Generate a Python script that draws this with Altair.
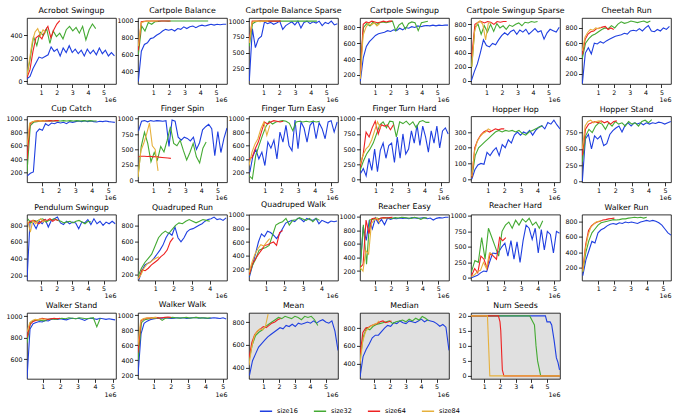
import altair as alt
import pandas as pd
import numpy as np

SERIES = ["size16", "size32", "size64", "size84"]
COLORS = ["#1f3fe0", "#44aa33", "#ee2222", "#e6b03c"]

# ---------------- data (y values; x runs over each series' span, in 1e6 steps) ----------------
ACRO_SPAN = [(0.1, 5.7), (0.1, 4.5), (0.1, 2.2), (0.1, 1.3)]
ACRO_16 = [20, 40, 110, 160, 210, 200, 215, 230, 300, 260, 280, 220, 290, 250, 310, 250, 280, 240, 270, 220, 280, 240, 270, 230, 290, 240, 270, 220, 250, 220]
ACRO_32 = [50, 200, 390, 310, 430, 400, 460, 330, 440, 390, 420, 370, 450, 480, 440, 470, 420, 480, 360, 450, 500, 460]
ACRO_64 = [30, 100, 260, 380, 400, 370, 440, 480, 380, 450, 500, 530]
ACRO_84 = [50, 200, 350, 430, 460, 400, 450, 420]

CPB_SPAN = [(0.05, 5.65), (0.05, 4.5), (0.05, 2.1), (0.05, 1.3)]
CPB_16 = [280, 640, 720, 740, 790, 800, 830, 850, 880, 900, 890, 900, 880, 910, 900, 930, 910, 930, 940, 920, 940, 950, 940, 950, 960, 950, 960, 955, 960, 960]
CPB_32 = [600, 940, 880, 980, 960, 990, 995, 1000, 1000, 998, 1000, 1000, 999, 1000, 1000, 1000, 1000, 1000, 1000, 1000, 1000, 1000]
CPB_64 = [650, 990, 995, 1000, 1000, 1000, 1000, 1000, 1000, 1000, 1000, 1000]
CPB_84 = [700, 980, 990, 1000, 995, 1000, 1000, 1000]

CPBS_SPAN = [(0.1, 5.7), (0.1, 4.4), (0.1, 2.1), (0.1, 1.3)]
CPBS_16 = [50, 880, 580, 720, 760, 990, 960, 980, 950, 970, 1000, 870, 930, 960, 990, 940, 1000, 890, 980, 1000, 960, 990, 970, 1000, 930, 980, 960, 1000, 940, 960]
CPBS_32 = [600, 960, 990, 1000, 1000, 1000, 1000, 1000, 1000, 1000, 1000, 1000, 1000, 1000, 1000, 1000, 1000, 1000, 1000, 1000, 1000, 1000]
CPBS_64 = [700, 1000, 1000, 1000, 1000, 1000, 1000, 1000, 1000, 1000, 1000, 1000]
CPBS_84 = [650, 980, 1000, 1000, 990, 1000, 1000, 1000]

CPS_SPAN = [(0.05, 5.7), (0.05, 4.4), (0.05, 2.1), (0.05, 1.3)]
CPS_16 = [120, 420, 560, 620, 660, 700, 720, 730, 740, 760, 750, 770, 760, 790, 770, 800, 790, 810, 800, 820, 810, 820, 825, 820, 830, 820, 830, 825, 830, 830]
CPS_32 = [300, 800, 850, 820, 870, 840, 860, 870, 860, 870, 880, 760, 830, 860, 780, 850, 870, 860, 760, 860, 870, 880]
CPS_64 = [200, 840, 870, 860, 880, 870, 860, 870, 880, 870, 880, 880]
CPS_84 = [150, 700, 800, 850, 830, 860, 820, 850]

CPSS_SPAN = [(0.02, 5.7), (0.05, 4.3), (0.05, 2.3), (0.05, 1.3)]
CPSS_16 = [0, 130, 240, 400, 580, 500, 480, 530, 510, 580, 640, 680, 650, 700, 720, 660, 720, 690, 730, 660, 700, 740, 690, 710, 590, 680, 730, 710, 690, 760]
CPSS_32 = [200, 760, 800, 660, 780, 690, 800, 700, 810, 750, 780, 730, 790, 770, 800, 820, 780, 830, 820, 840, 830, 840]
CPSS_64 = [350, 800, 830, 840, 820, 840, 830, 800, 840, 830, 840, 840]
CPSS_84 = [200, 700, 820, 850, 800, 580, 820, 820]

CHEE_SPAN = [(0.02, 5.5), (0.02, 4.3), (0.02, 2.0), (0.02, 1.2)]
CHEE_16 = [70, 470, 540, 460, 600, 590, 620, 600, 630, 650, 670, 690, 700, 710, 730, 720, 760, 770, 760, 790, 760, 800, 830, 760, 750, 780, 760, 800, 780, 820]
CHEE_32 = [400, 600, 660, 700, 720, 750, 780, 800, 790, 830, 800, 850, 880, 860, 870, 890, 880, 870, 880, 890, 870, 890]
CHEE_64 = [450, 650, 720, 750, 760, 790, 800, 810, 820, 780, 800, 780]
CHEE_84 = [500, 680, 740, 780, 770, 800, 790, 810]

CUP_SPAN = [(0.1, 5.4), (0.08, 4.3), (0.08, 2.0), (0.08, 1.2)]
CUP_16 = [150, 190, 210, 800, 850, 830, 930, 900, 940, 930, 950, 940, 950, 930, 960, 950, 960, 970, 960, 975, 960, 970, 960, 955, 965, 960, 970, 960, 955, 950]
CUP_32 = [200, 900, 950, 960, 970, 975, 970, 975, 970, 975, 970, 975, 970, 975, 970, 975, 970, 975, 970, 975, 970, 970]
CUP_64 = [400, 920, 960, 970, 975, 970, 975, 970, 975, 970, 975, 975]
CUP_84 = [600, 940, 960, 970, 970, 975, 970, 975]

FSPIN_SPAN = [(0.08, 5.6), (0.05, 4.3), (0.08, 2.1), (0.05, 1.3)]
FSPIN_16 = [800, 960, 970, 950, 970, 960, 970, 965, 960, 970, 550, 980, 960, 700, 650, 700, 680, 640, 700, 500, 610, 820, 870, 910, 840, 400, 790, 450, 680, 850]
FSPIN_32 = [50, 550, 780, 600, 300, 450, 330, 550, 460, 650, 870, 600, 560, 650, 480, 330, 450, 600, 380, 280, 520, 620]
FSPIN_64 = [380, 390, 390, 385, 390, 380, 385, 375, 370, 365, 360, 355]
FSPIN_84 = [50, 480, 600, 750, 930, 560, 500, 150]

FTE_SPAN = [(0.1, 5.35), (0.05, 4.3), (0.05, 2.1), (0.05, 1.3)]
FTE_16 = [200, 440, 540, 400, 500, 300, 650, 560, 680, 400, 800, 650, 900, 600, 520, 980, 550, 950, 860, 650, 900, 960, 700, 940, 850, 700, 950, 970, 800, 950]
FTE_32 = [150, 100, 450, 600, 750, 880, 960, 920, 950, 960, 970, 960, 930, 820, 950, 960, 950, 960, 950, 960, 950, 960]
FTE_64 = [400, 420, 550, 650, 800, 950, 920, 950, 970, 960, 950, 960]
FTE_84 = [300, 500, 620, 700, 850, 950, 750, 900]

FTH_SPAN = [(0.08, 5.45), (0.05, 4.3), (0.05, 2.1), (0.05, 1.3)]
FTH_16 = [100, 180, 60, 350, 150, 500, 130, 480, 600, 350, 560, 600, 280, 700, 350, 750, 420, 500, 800, 600, 900, 560, 880, 700, 450, 800, 600, 880, 520, 800, 850, 750]
FTH_32 = [150, 300, 420, 500, 600, 750, 900, 950, 850, 960, 950, 700, 950, 920, 960, 900, 950, 850, 950, 970, 940, 940]
FTH_64 = [200, 400, 780, 700, 850, 960, 750, 900, 880, 900, 820, 900]
FTH_84 = [250, 400, 500, 550, 650, 800, 950, 850]

HOP_SPAN = [(0.05, 5.35), (0.05, 4.3), (0.05, 2.0), (0.05, 1.2)]
HOP_16 = [0, 60, 90, 100, 95, 170, 150, 180, 200, 150, 220, 200, 250, 230, 280, 300, 280, 300, 290, 310, 280, 310, 330, 340, 320, 360, 350, 375, 345, 320]
HOP_32 = [10, 150, 200, 220, 240, 260, 280, 300, 310, 300, 310, 305, 310, 300, 310, 290, 280, 300, 310, 320, 330, 340]
HOP_64 = [10, 200, 250, 280, 300, 310, 300, 310, 320, 315, 320, 320]
HOP_84 = [20, 180, 240, 270, 290, 300, 320, 310]

HST_SPAN = [(0.02, 5.35), (0.02, 4.2), (0.02, 2.1), (0.02, 1.2)]
HST_16 = [0, 650, 720, 500, 700, 650, 700, 550, 580, 720, 780, 820, 850, 760, 860, 900, 850, 900, 880, 900, 870, 900, 880, 900, 890, 910, 900, 880, 900, 920]
HST_32 = [300, 700, 800, 750, 850, 900, 880, 800, 900, 850, 920, 880, 900, 850, 920, 880, 900, 850, 920, 940, 900, 950]
HST_64 = [400, 800, 880, 900, 920, 900, 930, 900, 920, 880, 920, 930]
HST_84 = [500, 850, 920, 940, 900, 920, 930, 900]

PEND_SPAN = [(0.1, 5.75), (0.15, 4.2), (0.15, 2.1), (0.15, 1.3)]
PEND_16 = [140, 850, 830, 760, 850, 820, 870, 780, 860, 880, 900, 830, 810, 850, 820, 840, 830, 760, 840, 830, 870, 810, 880, 820, 850, 800, 840, 820, 850, 820]
PEND_32 = [880, 830, 860, 850, 870, 880, 840, 860, 870, 880, 860, 850, 830, 840, 850, 830, 850, 860, 840, 820, 850, 840]
PEND_64 = [820, 850, 860, 840, 820, 850, 870, 860, 880, 850, 870, 860]
PEND_84 = [850, 720, 860, 820, 850, 880, 840, 860]

QRUN_SPAN = [(0.1, 4.9), (0.05, 4.0), (0.1, 2.0), (0.05, 1.2)]
QRUN_16 = [140, 250, 320, 340, 360, 400, 450, 500, 560, 650, 710, 680, 780, 650, 600, 650, 720, 750, 760, 780, 800, 820, 850, 870, 880, 900, 870, 880, 860, 890]
QRUN_32 = [180, 280, 350, 400, 450, 550, 650, 700, 730, 700, 750, 800, 830, 820, 850, 870, 850, 830, 850, 870, 860, 850]
QRUN_64 = [160, 260, 250, 280, 320, 350, 380, 420, 450, 500, 600, 650]
QRUN_84 = [150, 200, 280, 330, 350, 380, 400, 420]

QWALK_SPAN = [(0.1, 4.85), (0.08, 3.9), (0.1, 1.9), (0.08, 1.2)]
QWALK_16 = [80, 250, 420, 600, 720, 680, 760, 740, 700, 650, 720, 800, 880, 900, 920, 900, 950, 940, 900, 950, 930, 920, 950, 870, 920, 900, 880, 910, 900, 910]
QWALK_32 = [100, 250, 350, 480, 500, 520, 550, 700, 850, 880, 900, 950, 850, 920, 930, 960, 940, 920, 950, 900, 950, 920]
QWALK_64 = [120, 280, 350, 420, 480, 550, 560, 580, 600, 550, 740, 770]
QWALK_84 = [150, 300, 420, 500, 560, 540, 600, 650]

REZ_SPAN = [(0.05, 5.65), (0.05, 4.3), (0.05, 2.1), (0.05, 1.3)]
REZ_16 = [250, 850, 650, 950, 820, 980, 900, 960, 880, 980, 960, 975, 970, 980, 975, 980, 970, 985, 980, 975, 980, 985, 970, 980, 950, 975, 985, 980, 990, 990]
REZ_32 = [200, 880, 300, 950, 960, 980, 970, 980, 985, 980, 975, 985, 980, 990, 985, 980, 975, 990, 980, 960, 985, 980]
REZ_64 = [250, 300, 950, 750, 970, 980, 950, 980, 985, 980, 985, 990]
REZ_84 = [250, 200, 500, 450, 900, 950, 980, 900]

RHARD_SPAN = [(0.05, 5.3), (0.05, 4.3), (0.05, 2.1), (0.05, 1.3)]
RHARD_16 = [0, 20, 40, 80, 110, 100, 260, 400, 390, 420, 500, 560, 350, 600, 300, 580, 250, 600, 850, 800, 620, 800, 400, 780, 450, 750, 700, 400, 750, 720]
RHARD_32 = [100, 280, 250, 650, 300, 800, 650, 500, 350, 750, 850, 900, 800, 930, 850, 950, 900, 960, 850, 900, 800, 920]
RHARD_64 = [30, 150, 80, 350, 300, 150, 400, 350, 300, 650, 600, 650]
RHARD_84 = [20, 50, 100, 120, 250, 150, 400, 380]

WRUN_SPAN = [(0.05, 5.5), (0.05, 4.0), (0.05, 2.0), (0.05, 1.2)]
WRUN_16 = [100, 300, 420, 540, 520, 650, 690, 710, 740, 760, 770, 760, 780, 770, 790, 780, 790, 780, 770, 790, 800, 810, 800, 810, 800, 780, 750, 700, 650, 620]
WRUN_32 = [150, 400, 550, 650, 700, 750, 780, 790, 800, 810, 820, 815, 820, 830, 830, 840, 845, 850, 845, 850, 840, 850]
WRUN_64 = [180, 500, 680, 740, 770, 790, 800, 815, 820, 830, 835, 840]
WRUN_84 = [150, 450, 620, 720, 760, 790, 800, 810]

WST_SPAN = [(0.1, 5.15), (0.1, 4.3), (0.1, 2.0), (0.1, 1.2)]
WST_16 = [420, 880, 930, 940, 950, 945, 960, 955, 970, 975, 970, 975, 970, 965, 975, 980, 975, 980, 970, 960, 975, 980, 975, 970, 980, 975, 970, 975, 970, 965]
WST_32 = [750, 940, 960, 965, 960, 955, 970, 975, 970, 975, 980, 975, 985, 980, 975, 985, 980, 975, 980, 985, 900, 980]
WST_64 = [800, 920, 950, 960, 970, 980, 975, 970, 975, 980, 975, 980]
WST_84 = [850, 940, 960, 970, 965, 975, 970, 975]

WWALK_SPAN = [(0.1, 5.2), (0.1, 4.3), (0.1, 2.0), (0.1, 1.2)]
WWALK_16 = [200, 750, 890, 920, 940, 950, 955, 960, 960, 965, 960, 955, 960, 965, 960, 965, 955, 960, 965, 970, 960, 965, 960, 955, 960, 965, 960, 955, 965, 950]
WWALK_32 = [400, 900, 940, 950, 960, 960, 965, 930, 960, 965, 970, 965, 960, 965, 970, 960, 965, 970, 960, 965, 960, 965]
WWALK_64 = [500, 920, 950, 960, 960, 965, 970, 960, 965, 970, 975, 970]
WWALK_84 = [600, 930, 955, 960, 965, 960, 970, 965]

MEAN_SPAN = [(0.1, 5.8), (0.07, 4.5), (0.07, 2.1), (0.07, 1.3)]
MEAN_16 = [330, 460, 520, 580, 610, 640, 670, 690, 710, 730, 750, 740, 770, 760, 780, 760, 790, 780, 790, 800, 790, 810, 790, 810, 820, 800, 790, 810, 720, 550]
MEAN_32 = [460, 600, 680, 710, 730, 760, 780, 800, 820, 840, 830, 850, 840, 830, 850, 840, 820, 850, 840, 850, 820, 770]
MEAN_64 = [480, 620, 690, 720, 740, 760, 750, 770, 790, 800, 820, 830]
MEAN_84 = [420, 580, 680, 720, 740, 730, 760, 870]

MED_SPAN = [(0.07, 5.8), (0.07, 4.5), (0.07, 2.1), (0.07, 1.3)]
MED_16 = [250, 480, 560, 620, 690, 720, 720, 760, 800, 830, 820, 860, 850, 880, 860, 850, 880, 870, 860, 880, 900, 870, 890, 880, 870, 850, 820, 840, 810, 550]
MED_32 = [450, 700, 800, 780, 820, 840, 850, 860, 870, 880, 850, 870, 880, 890, 870, 900, 880, 910, 890, 930, 910, 880]
MED_64 = [500, 750, 800, 810, 830, 840, 850, 870, 880, 860, 870, 880]
MED_84 = [400, 650, 760, 800, 820, 840, 850, 880]

SEEDS_X16 = [0.15, 4.9, 5.0, 5.2, 5.3, 5.45, 5.6, 5.7, 5.8]
SEEDS_16 = [20, 20, 18, 18, 17, 12, 6, 4.5, 2]
SEEDS_X32 = [0.15, 3.9, 4.1, 4.2, 4.3, 4.4, 4.6, 5.83]
SEEDS_32 = [20, 20, 18, 17, 10, 5, 0, 0]
SEEDS_X64 = [0.15, 1.9, 2.0, 2.05, 2.15, 2.25, 5.83]
SEEDS_64 = [20, 20, 18, 15, 2, 0, 0]
SEEDS_X84 = [0.15, 1.2, 1.35, 5.83]
SEEDS_84 = [20, 20, 0, 0]

rows = []


def add(panel, spans, ys_list):
    for s, (a, b), ys in zip(SERIES, spans, ys_list):
        for x, y in zip(np.linspace(a, b, len(ys)), ys):
            rows.append({"panel": panel, "series": s, "x": float(x), "y": float(y)})


add("Acrobot Swingup", ACRO_SPAN, [ACRO_16, ACRO_32, ACRO_64, ACRO_84])
add("Cartpole Balance", CPB_SPAN, [CPB_16, CPB_32, CPB_64, CPB_84])
add("Cartpole Balance Sparse", CPBS_SPAN, [CPBS_16, CPBS_32, CPBS_64, CPBS_84])
add("Cartpole Swingup", CPS_SPAN, [CPS_16, CPS_32, CPS_64, CPS_84])
add("Cartpole Swingup Sparse", CPSS_SPAN, [CPSS_16, CPSS_32, CPSS_64, CPSS_84])
add("Cheetah Run", CHEE_SPAN, [CHEE_16, CHEE_32, CHEE_64, CHEE_84])
add("Cup Catch", CUP_SPAN, [CUP_16, CUP_32, CUP_64, CUP_84])
add("Finger Spin", FSPIN_SPAN, [FSPIN_16, FSPIN_32, FSPIN_64, FSPIN_84])
add("Finger Turn Easy", FTE_SPAN, [FTE_16, FTE_32, FTE_64, FTE_84])
add("Finger Turn Hard", FTH_SPAN, [FTH_16, FTH_32, FTH_64, FTH_84])
add("Hopper Hop", HOP_SPAN, [HOP_16, HOP_32, HOP_64, HOP_84])
add("Hopper Stand", HST_SPAN, [HST_16, HST_32, HST_64, HST_84])
add("Pendulum Swingup", PEND_SPAN, [PEND_16, PEND_32, PEND_64, PEND_84])
add("Quadruped Run", QRUN_SPAN, [QRUN_16, QRUN_32, QRUN_64, QRUN_84])
add("Quadruped Walk", QWALK_SPAN, [QWALK_16, QWALK_32, QWALK_64, QWALK_84])
add("Reacher Easy", REZ_SPAN, [REZ_16, REZ_32, REZ_64, REZ_84])
add("Reacher Hard", RHARD_SPAN, [RHARD_16, RHARD_32, RHARD_64, RHARD_84])
add("Walker Run", WRUN_SPAN, [WRUN_16, WRUN_32, WRUN_64, WRUN_84])
add("Walker Stand", WST_SPAN, [WST_16, WST_32, WST_64, WST_84])
add("Walker Walk", WWALK_SPAN, [WWALK_16, WWALK_32, WWALK_64, WWALK_84])
add("Mean", MEAN_SPAN, [MEAN_16, MEAN_32, MEAN_64, MEAN_84])
add("Median", MED_SPAN, [MED_16, MED_32, MED_64, MED_84])
for s, xs, ys in zip(SERIES, [SEEDS_X16, SEEDS_X32, SEEDS_X64, SEEDS_X84],
                     [SEEDS_16, SEEDS_32, SEEDS_64, SEEDS_84]):
    for x, y in zip(xs, ys):
        rows.append({"panel": "Num Seeds", "series": s, "x": x, "y": y})

df = pd.DataFrame(rows)

# panel: (title, x domain, y domain, y ticks, grey background)
T250 = [0, 250, 500, 750, 1000]
T2_10 = [200, 400, 600, 800, 1000]
T2_8 = [200, 400, 600, 800]
PANELS = [
    ("Acrobot Swingup", [0.1, 5.8], [-26, 553], [0, 200, 400], False),
    ("Cartpole Balance", [0.03, 5.7], [250, 1035], [400, 600, 800, 1000], False),
    ("Cartpole Balance Sparse", [0.08, 5.74], [0, 1050], [250, 500, 750, 1000], False),
    ("Cartpole Swingup", [0.03, 5.76], [85, 920], T2_8, False),
    ("Cartpole Swingup Sparse", [0.0, 5.75], [-45, 890], [0, 200, 400, 600, 800], False),
    ("Cheetah Run", [0.0, 5.6], [65, 930], T2_8, False),
    ("Cup Catch", [0.08, 5.47], [55, 1040], T2_10, False),
    ("Finger Spin", [0.05, 5.6], [-35, 1040], T250, False),
    ("Finger Turn Easy", [0.05, 5.4], [50, 1035], T2_10, False),
    ("Finger Turn Hard", [0.05, 5.5], [-45, 1040], T250, False),
    ("Hopper Hop", [0.0, 5.35], [-20, 400], [0, 100, 200, 300], False),
    ("Hopper Stand", [0.0, 5.36], [-15, 1000], [0, 250, 500, 750], False),
    ("Pendulum Swingup", [0.1, 5.8], [135, 930], T2_8, False),
    ("Quadruped Run", [0.05, 4.95], [130, 930], T2_8, False),
    ("Quadruped Walk", [0.08, 4.9], [30, 1005], T2_10, False),
    ("Reacher Easy", [0.04, 5.68], [60, 1030], T2_10, False),
    ("Reacher Hard", [0.02, 5.33], [-45, 1020], T250, False),
    ("Walker Run", [0.0, 5.5], [35, 885], T2_8, False),
    ("Walker Stand", [0.1, 5.2], [415, 1030], [600, 800, 1000], False),
    ("Walker Walk", [0.1, 5.25], [150, 1030], T2_10, False),
    ("Mean", [0.07, 5.8], [300, 880], [400, 600, 800], True),
    ("Median", [0.07, 5.8], [230, 970], [400, 600, 800], True),
    ("Num Seeds", [0.15, 5.83], [-1, 21], [0, 5, 10, 15, 20], True),
]

FONT = "DejaVu Sans"
legend = alt.Legend(
    title=None, orient="none", legendX=232, legendY=386, direction="horizontal",
    symbolType="stroke", symbolSize=150, symbolStrokeWidth=1.5,
    labelFont=FONT, labelFontSize=6.5, labelColor="black", columnPadding=12,
)

charts = []
for name, xdom, ydom, yticks, grey in PANELS:
    xt = [v for v in [1, 2, 3, 4, 5] if xdom[0] <= v <= xdom[1]]
    c = (
        alt.Chart(df)
        .transform_filter(alt.datum.panel == name)
        .mark_line(strokeWidth=1.1, clip=True)
        .encode(
            x=alt.X("x:Q", scale=alt.Scale(domain=xdom, nice=False, zero=False),
                    axis=alt.Axis(values=xt, format="d", title="1e6", titleAnchor="end")),
            y=alt.Y("y:Q", scale=alt.Scale(domain=ydom, nice=False, zero=False),
                    axis=alt.Axis(values=yticks, format="d", title=None)),
            color=alt.Color("series:N", scale=alt.Scale(domain=SERIES, range=COLORS), legend=legend),
        )
    )
    if grey:
        c = c.properties(width=89, height=66, title=name,
                         view=alt.ViewBackground(fill="#e0e0e0", stroke="black", strokeWidth=0.8))
    else:
        c = c.properties(width=89, height=66, title=name)
    charts.append(c)

chart = (
    alt.concat(*charts, columns=6, spacing={"row": 32.3, "column": 22}, bounds="flush")
    .properties(padding={"left": 5, "top": 6, "right": 5, "bottom": 5})
    .configure_view(stroke="black", strokeWidth=0.8)
    .configure_title(font=FONT, fontSize=7.8, fontWeight="normal", color="black", offset=3, anchor="middle")
    .configure_axis(
        labelFont=FONT, labelFontSize=6.3, labelColor="black", tickColor="black",
        tickSize=3.5, tickWidth=0.8, domain=False, grid=False, labelPadding=1.5,
        titleFont=FONT, titleFontSize=6.3, titleFontWeight="normal", titleColor="black",
        titlePadding=1,
    )
)

chart.save("out.html", embed_options={"renderer": "svg", "actions": False})
